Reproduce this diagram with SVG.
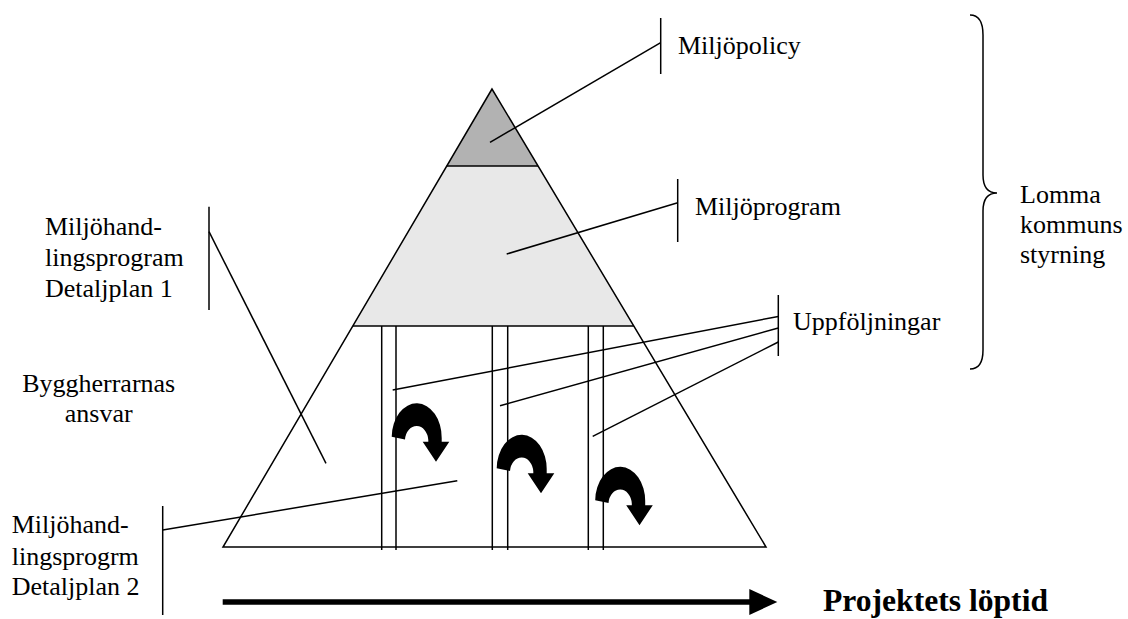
<svg xmlns="http://www.w3.org/2000/svg" width="1128" height="619" viewBox="0 0 1128 619">
<style>
.ln{stroke:#000;stroke-width:1.5;fill:none}
.t{font-family:"Liberation Serif","Times New Roman",serif;font-size:26px;fill:#000}
.tb{font-family:"Liberation Serif","Times New Roman",serif;font-size:31px;font-weight:bold;fill:#000}
.ua{fill:#000;stroke:none}
</style>
<defs>
<path id="uturn" d="M391.7,436.7 A25,34 0 0 1 441.7,438 L441.7,441.7 L449.3,441.7 L436,461.7 L422.7,441.7 L428.3,441.7 L428.3,440 A11.7,15 0 0 0 405,439.5 Z"/>
</defs>
<rect width="1128" height="619" fill="#fff"/>
<g id="pyramid">
<polygon points="492,89 223,547 766,547" fill="#fff" stroke="none"/>
<polygon points="353,326 446.8,166 538,166 633.8,326" fill="#e8e8e8" stroke="none"/>
<polygon points="492,89 446.8,166 538,166" fill="#b2b2b2" stroke="none"/>
<polygon points="492,89 223,547 766,547" class="ln"/>
<line x1="446.8" y1="166" x2="538" y2="166" class="ln"/>
<line x1="353" y1="326" x2="633.8" y2="326" class="ln"/>
</g>
<g id="phases">
<line x1="381.7" y1="326" x2="381.7" y2="550" class="ln"/>
<line x1="396" y1="326" x2="396" y2="550" class="ln"/>
<line x1="492.3" y1="326" x2="492.3" y2="550" class="ln"/>
<line x1="507.7" y1="326" x2="507.7" y2="550" class="ln"/>
<line x1="588.3" y1="326" x2="588.3" y2="550" class="ln"/>
<line x1="603.3" y1="326" x2="603.3" y2="550" class="ln"/>
</g>
<g id="cycle-arrows">
<use href="#uturn" class="ua"/>
<use href="#uturn" class="ua" transform="translate(105,31.5)"/>
<use href="#uturn" class="ua" transform="translate(203.5,63.5)"/>
</g>
<g id="connectors">
<line x1="660.7" y1="18" x2="660.7" y2="74" class="ln"/>
<line x1="490" y1="142.3" x2="660.7" y2="42.7" class="ln"/>
<line x1="677.7" y1="179" x2="677.7" y2="242" class="ln"/>
<line x1="506.7" y1="254" x2="677.7" y2="202.7" class="ln"/>
<line x1="778.3" y1="295" x2="778.3" y2="356" class="ln"/>
<line x1="392.7" y1="390" x2="778.3" y2="316.5" class="ln"/>
<line x1="500" y1="405.7" x2="778.3" y2="328" class="ln"/>
<line x1="592.7" y1="436.3" x2="778.3" y2="342" class="ln"/>
<line x1="209" y1="206.7" x2="209" y2="310" class="ln"/>
<line x1="209" y1="231.7" x2="326" y2="463.3" class="ln"/>
<line x1="162.7" y1="506" x2="162.7" y2="615" class="ln"/>
<line x1="162.7" y1="530" x2="457.3" y2="480.7" class="ln"/>
<path d="M970,15 Q983,15 983,35 L983,175 Q983,193 997,193 Q983,193 983,211 L983,350 Q983,369 970,369" class="ln"/>
</g>
<g id="timeline">
<line x1="222.7" y1="602" x2="750" y2="602" stroke="#000" stroke-width="5.5"/>
<polygon points="749.3,589 777.3,602 749.3,615" fill="#000"/>
<text x="823" y="611" class="tb" textLength="225" lengthAdjust="spacingAndGlyphs">Projektets löptid</text>
</g>
<g id="label-miljopolicy"><text x="678" y="53.5" class="t">Miljöpolicy</text></g>
<g id="label-miljoprogram"><text x="695" y="215" class="t">Miljöprogram</text></g>
<g id="label-uppfoljningar"><text x="793" y="330" class="t">Uppföljningar</text></g>
<g id="label-lomma"><text class="t"><tspan x="1020" y="203">Lomma</tspan><tspan x="1020" y="233">kommuns</tspan><tspan x="1020" y="263">styrning</tspan></text></g>
<g id="label-dp1"><text class="t"><tspan x="45" y="235">Miljöhand-</tspan><tspan x="45" y="265.5">lingsprogram</tspan><tspan x="45" y="296.5">Detaljplan 1</tspan></text></g>
<g id="label-bygg"><text class="t" text-anchor="middle"><tspan x="98.7" y="391.7">Byggherrarnas</tspan><tspan x="98.7" y="421.7">ansvar</tspan></text></g>
<g id="label-dp2"><text class="t"><tspan x="11.7" y="533.3">Miljöhand-</tspan><tspan x="11.7" y="565">lingsprogrm</tspan><tspan x="11.7" y="595">Detaljplan 2</tspan></text></g>
</svg>
